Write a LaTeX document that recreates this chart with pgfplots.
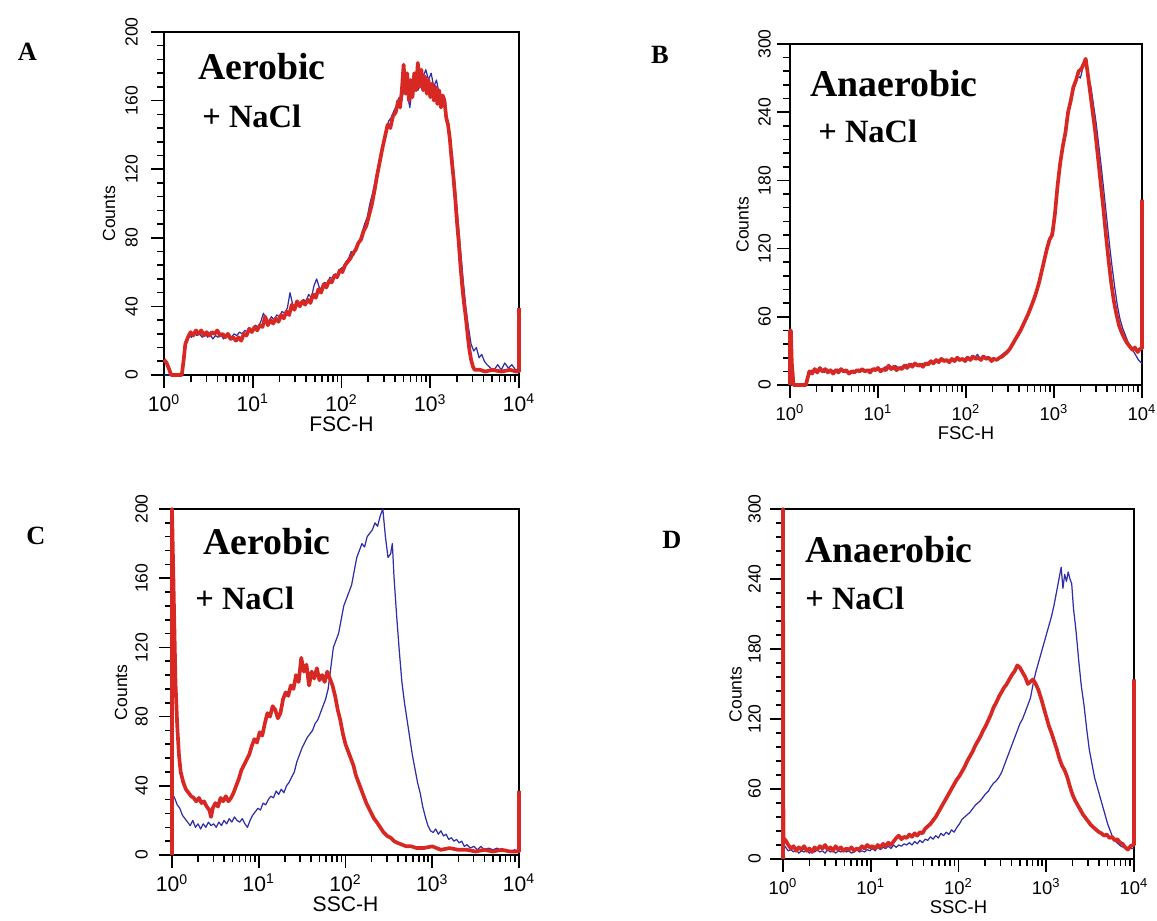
\documentclass[border=0pt]{standalone}
\usepackage{pgfplots}
\pgfplotsset{compat=1.18}
\usepackage{fontspec}
\setmainfont{Liberation Serif}
\setsansfont{Liberation Sans}
\definecolor{fred}{RGB}{216,40,36}
\definecolor{fblue}{RGB}{46,46,168}

\pgfplotsset{
  flow/.style={
    scale only axis,
    clip=false,
    xmin=0, xmax=4, ymin=0,
    xtick={0,1,2,3,4},
    xticklabels={10\textsuperscript{0},10\textsuperscript{1},10\textsuperscript{2},10\textsuperscript{3},10\textsuperscript{4}},
    minor xtick={0.30103,0.47712,0.60206,0.69897,0.77815,0.84510,0.90309,0.95424,
      1.30103,1.47712,1.60206,1.69897,1.77815,1.84510,1.90309,1.95424,
      2.30103,2.47712,2.60206,2.69897,2.77815,2.84510,2.90309,2.95424,
      3.30103,3.47712,3.60206,3.69897,3.77815,3.84510,3.90309,3.95424},
    xtick pos=bottom, ytick pos=left,
    tick align=outside,
    major tick length=0.26cm, minor tick length=0.14cm,
    tick style={black, line width=0.9pt},
    axis line style={black, line width=1pt},
    minor y tick num=4,
    yticklabel style={rotate=90, anchor=south, font=\sffamily\fontsize{10}{10}\selectfont},
    ylabel={Counts},
    every axis y label/.style={rotate=90, anchor=center,
      font=\sffamily\fontsize{10}{10}\selectfont},
    every axis x label/.style={at={(axis description cs:0.5,0)}, anchor=north, yshift=-0.72cm},
    /pgf/number format/assume math mode=true,
  },
  redh/.style={fred, line width=2.1pt, line join=round},
  blueh/.style={fblue, line width=0.7pt, line join=round},
}

\begin{document}
\begin{tikzpicture}
\useasboundingbox (0,0) rectangle (23.14,18.42);

% A: aerobic, forward scatter
\begin{scope}[shift={(3.28,10.92)}]
\begin{axis}[flow, width=7.10cm, height=6.86cm,
  ymax=200, ytick={0,40,...,200},
  yticklabel style={yshift=0.14cm},
  xticklabel style={font=\sffamily\fontsize{12}{12}\selectfont},
  xlabel={FSC-H}, xlabel style={font=\sffamily\fontsize{12}{12}\selectfont},
  ylabel style={at={([xshift=-1.1cm]axis description cs:0,0.47)}}]
\addplot[blueh] coordinates {(0,0)(0.21,0)(0.23,14)(0.25,20)(0.28,23)(0.31,22)(0.34,25)(0.37,23)(0.40,24)(0.43,22)(0.46,25)(0.49,22)(0.52,24)(0.55,21)(0.58,23)(0.61,22)(0.64,24)(0.67,21)(0.70,23)(0.73,24)(0.76,22)(0.79,24)(0.82,23)(0.85,25)(0.88,24)(0.91,26)(0.94,25)(0.97,27)(1.00,26)(1.03,29)(1.06,28)(1.09,31)(1.12,36)(1.15,33)(1.18,31)(1.21,34)(1.24,32)(1.27,35)(1.30,34)(1.33,37)(1.36,36)(1.39,39)(1.42,48)(1.45,41)(1.48,40)(1.51,42)(1.54,41)(1.57,44)(1.60,43)(1.63,47)(1.66,45)(1.69,52)(1.72,56)(1.75,51)(1.78,50)(1.81,54)(1.84,53)(1.87,57)(1.90,56)(1.93,59)(1.96,58)(1.99,62)(2.02,63)(2.05,66)(2.08,68)(2.11,72)(2.14,70)(2.17,75)(2.20,78)(2.23,83)(2.26,88)(2.29,92)(2.32,100)(2.35,106)(2.38,113)(2.41,121)(2.44,129)(2.47,135)(2.50,141)(2.53,148)(2.56,150)(2.59,154)(2.62,157)(2.65,162)(2.68,160)(2.71,170)(2.74,164)(2.77,156)(2.80,168)(2.83,172)(2.86,166)(2.89,170)(2.92,174)(2.95,178)(2.98,172)(3.01,176)(3.04,168)(3.07,172)(3.10,164)(3.13,160)(3.16,156)(3.19,150)(3.22,140)(3.25,128)(3.28,110)(3.31,92)(3.34,74)(3.37,56)(3.40,40)(3.43,28)(3.46,18)(3.49,14)(3.52,16)(3.55,10)(3.58,12)(3.61,8)(3.64,6)(3.68,4)(3.72,3)(3.76,6)(3.80,3)(3.84,7)(3.88,4)(3.92,6)(3.96,3)(4,3)};
\addplot[redh] coordinates {(0,9)(0.03,7)(0.06,3)(0.08,0)(0.20,0)(0.22,8)(0.24,18)(0.27,22)(0.30,25)(0.33,23)(0.36,26)(0.39,24)(0.42,26)(0.45,23)(0.48,25)(0.51,23)(0.54,25)(0.57,24)(0.60,26)(0.63,23)(0.66,24)(0.69,22)(0.72,24)(0.75,21)(0.78,22)(0.81,20)(0.84,22)(0.87,20)(0.90,24)(0.93,23)(0.96,27)(0.99,25)(1.02,28)(1.05,26)(1.08,29)(1.11,28)(1.14,34)(1.17,29)(1.20,32)(1.23,30)(1.26,33)(1.29,31)(1.32,35)(1.35,33)(1.38,37)(1.41,35)(1.44,41)(1.47,38)(1.50,43)(1.53,40)(1.56,43)(1.59,41)(1.62,44)(1.65,42)(1.68,47)(1.71,45)(1.74,50)(1.77,48)(1.80,53)(1.83,51)(1.86,55)(1.89,54)(1.92,58)(1.95,57)(1.98,61)(2.01,60)(2.04,64)(2.07,66)(2.10,68)(2.13,71)(2.16,73)(2.19,77)(2.22,79)(2.25,84)(2.28,87)(2.31,93)(2.34,99)(2.37,107)(2.40,116)(2.43,124)(2.46,132)(2.49,139)(2.52,146)(2.55,144)(2.58,151)(2.61,153)(2.64,160)(2.66,156)(2.68,166)(2.70,181)(2.72,164)(2.74,176)(2.76,160)(2.78,172)(2.80,162)(2.82,176)(2.84,166)(2.86,182)(2.88,168)(2.90,178)(2.92,166)(2.94,174)(2.96,164)(2.98,172)(3.00,162)(3.02,170)(3.04,160)(3.06,168)(3.08,158)(3.10,166)(3.12,156)(3.14,163)(3.16,160)(3.18,150)(3.20,146)(3.22,138)(3.24,126)(3.26,116)(3.28,104)(3.30,90)(3.32,78)(3.34,64)(3.36,52)(3.38,42)(3.40,34)(3.42,24)(3.44,15)(3.46,9)(3.48,5)(3.50,3)(3.56,3)(3.62,2)(3.70,3)(3.80,2)(3.90,3)(3.97,2)(4,2)(4,39)};
\end{axis}
\end{scope}

% B: anaerobic, forward scatter
\begin{scope}[shift={(15.80,10.72)}]
\begin{axis}[flow, width=7.04cm, height=6.82cm,
  ymax=300, ytick={0,60,...,300},
  xticklabel style={font=\sffamily\fontsize{10.5}{10.5}\selectfont},
  xlabel={FSC-H}, xlabel style={font=\sffamily\fontsize{10.5}{10.5}\selectfont, yshift=0.02cm},
  ylabel style={at={([xshift=-0.95cm]axis description cs:0,0.47)}}]
\addplot[blueh] coordinates {(0,0)(0.19,0)(0.21,8)(0.24,13)(0.27,11)(0.30,14)(0.33,12)(0.36,13)(0.39,11)(0.42,14)(0.45,12)(0.48,13)(0.51,11)(0.54,14)(0.57,12)(0.60,13)(0.63,11)(0.66,12)(0.69,10)(0.72,13)(0.75,12)(0.78,14)(0.81,12)(0.84,13)(0.87,12)(0.90,14)(0.93,13)(0.96,15)(0.99,13)(1.02,14)(1.05,13)(1.08,16)(1.11,14)(1.14,16)(1.17,14)(1.20,17)(1.23,15)(1.26,16)(1.29,15)(1.32,18)(1.35,16)(1.38,19)(1.41,17)(1.44,18)(1.47,16)(1.50,19)(1.53,18)(1.56,20)(1.59,19)(1.62,21)(1.65,20)(1.68,22)(1.71,21)(1.74,23)(1.77,22)(1.80,21)(1.83,23)(1.86,22)(1.89,24)(1.92,21)(1.95,23)(1.98,22)(2.01,25)(2.04,23)(2.07,26)(2.10,24)(2.13,27)(2.16,23)(2.19,26)(2.22,24)(2.25,25)(2.28,23)(2.31,24)(2.34,22)(2.37,24)(2.40,26)(2.43,28)(2.46,30)(2.49,32)(2.52,36)(2.55,39)(2.58,42)(2.61,46)(2.64,50)(2.67,55)(2.70,60)(2.73,66)(2.76,72)(2.79,78)(2.82,86)(2.85,94)(2.88,104)(2.91,114)(2.94,124)(2.97,134)(3.00,146)(3.03,165)(3.06,185)(3.09,202)(3.12,216)(3.15,232)(3.18,246)(3.21,258)(3.24,266)(3.27,272)(3.30,270)(3.33,280)(3.36,284)(3.39,272)(3.42,262)(3.45,246)(3.48,230)(3.51,210)(3.54,190)(3.57,168)(3.60,146)(3.63,124)(3.66,104)(3.69,86)(3.72,70)(3.75,58)(3.78,50)(3.81,44)(3.84,38)(3.87,34)(3.90,30)(3.93,26)(3.96,22)(4,19)};
\addplot[redh] coordinates {(0,0)(0,48)(0.01,48)(0.02,20)(0.04,0)(0.18,0)(0.20,6)(0.22,12)(0.25,10)(0.28,14)(0.31,11)(0.34,15)(0.37,12)(0.40,14)(0.43,11)(0.46,13)(0.49,10)(0.52,13)(0.55,11)(0.58,14)(0.61,12)(0.64,13)(0.67,10)(0.70,12)(0.73,11)(0.76,13)(0.79,12)(0.82,14)(0.85,12)(0.88,13)(0.91,11)(0.94,14)(0.97,13)(1.00,15)(1.03,12)(1.06,14)(1.09,13)(1.12,17)(1.15,14)(1.18,16)(1.21,13)(1.24,15)(1.27,14)(1.30,17)(1.33,15)(1.36,18)(1.39,16)(1.42,19)(1.45,17)(1.48,18)(1.51,16)(1.54,19)(1.57,18)(1.60,21)(1.63,19)(1.66,22)(1.69,20)(1.72,23)(1.75,21)(1.78,22)(1.81,20)(1.84,23)(1.87,21)(1.90,24)(1.93,22)(1.96,23)(1.99,21)(2.02,24)(2.05,22)(2.08,25)(2.11,23)(2.14,24)(2.17,22)(2.20,25)(2.23,23)(2.26,24)(2.29,21)(2.32,23)(2.35,22)(2.38,24)(2.41,25)(2.44,27)(2.47,29)(2.50,32)(2.53,36)(2.56,40)(2.59,44)(2.62,48)(2.65,53)(2.68,58)(2.71,63)(2.74,69)(2.77,75)(2.80,82)(2.83,90)(2.86,100)(2.89,110)(2.92,120)(2.95,128)(2.98,132)(3.01,150)(3.04,175)(3.07,195)(3.10,210)(3.13,222)(3.16,240)(3.19,250)(3.22,262)(3.25,268)(3.28,276)(3.31,278)(3.34,283)(3.36,287)(3.38,276)(3.41,258)(3.44,240)(3.47,222)(3.50,200)(3.53,178)(3.56,156)(3.59,132)(3.62,110)(3.65,90)(3.68,74)(3.71,62)(3.74,52)(3.77,46)(3.80,41)(3.83,37)(3.86,34)(3.89,31)(3.92,33)(3.95,29)(3.98,32)(4,32)(4,163)};
\end{axis}
\end{scope}

% C: aerobic, side scatter
\begin{scope}[shift={(3.44,1.32)}]
\begin{axis}[flow, width=6.94cm, height=6.92cm,
  ymax=200, ytick={0,40,...,200},
  yticklabel style={yshift=0.1cm},
  xticklabel style={font=\sffamily\fontsize{12}{12}\selectfont},
  xlabel={SSC-H}, xlabel style={font=\sffamily\fontsize{12}{12}\selectfont},
  ylabel style={at={([xshift=-1.02cm]axis description cs:0,0.47)}}]
\addplot[blueh] coordinates {(0,36)(0.03,33)(0.06,29)(0.09,27)(0.12,23)(0.15,21)(0.18,19)(0.21,17)(0.24,20)(0.27,16)(0.30,18)(0.33,15)(0.36,18)(0.39,16)(0.42,19)(0.45,17)(0.48,18)(0.51,16)(0.54,19)(0.57,17)(0.60,20)(0.63,18)(0.66,21)(0.69,19)(0.72,22)(0.75,20)(0.78,19)(0.81,21)(0.84,18)(0.87,16)(0.90,20)(0.93,23)(0.96,25)(0.99,27)(1.02,26)(1.05,30)(1.08,29)(1.11,32)(1.14,34)(1.17,33)(1.20,37)(1.23,35)(1.26,38)(1.29,36)(1.32,40)(1.35,42)(1.38,45)(1.41,48)(1.44,54)(1.47,58)(1.50,62)(1.53,65)(1.56,68)(1.59,70)(1.62,72)(1.65,76)(1.68,78)(1.71,82)(1.74,86)(1.77,90)(1.80,96)(1.83,108)(1.86,120)(1.89,124)(1.92,128)(1.95,136)(1.98,144)(2.01,148)(2.04,152)(2.07,156)(2.10,164)(2.13,172)(2.16,176)(2.19,180)(2.22,178)(2.25,184)(2.28,186)(2.31,188)(2.34,192)(2.37,190)(2.40,196)(2.43,200)(2.46,184)(2.49,172)(2.52,174)(2.54,180)(2.56,160)(2.59,138)(2.62,118)(2.65,100)(2.68,88)(2.71,78)(2.74,68)(2.77,58)(2.80,50)(2.83,42)(2.86,36)(2.89,28)(2.92,22)(2.95,17)(2.98,14)(3.01,13)(3.04,15)(3.07,12)(3.10,14)(3.13,11)(3.16,12)(3.19,9)(3.22,10)(3.25,8)(3.28,9)(3.31,7)(3.34,8)(3.37,5)(3.40,6)(3.44,4)(3.48,5)(3.52,3)(3.56,5)(3.60,3)(3.65,4)(3.70,3)(3.75,4)(3.80,2)(3.85,3)(3.90,2)(3.95,3)(4,2)};
\addplot[redh] coordinates {(0,0)(0,200)(0.02,150)(0.04,100)(0.06,75)(0.08,58)(0.10,48)(0.13,42)(0.16,38)(0.19,36)(0.22,34)(0.25,33)(0.28,31)(0.31,33)(0.34,30)(0.37,31)(0.40,28)(0.43,26)(0.45,22)(0.47,27)(0.50,30)(0.53,28)(0.56,33)(0.59,31)(0.62,34)(0.65,31)(0.68,33)(0.71,36)(0.74,40)(0.77,44)(0.80,49)(0.83,52)(0.86,55)(0.89,58)(0.92,63)(0.95,67)(0.98,65)(1.01,71)(1.04,69)(1.07,76)(1.10,82)(1.13,80)(1.16,86)(1.19,84)(1.22,79)(1.25,82)(1.28,90)(1.31,94)(1.34,92)(1.37,98)(1.40,96)(1.43,104)(1.46,100)(1.49,114)(1.52,106)(1.55,110)(1.58,98)(1.61,106)(1.64,102)(1.67,108)(1.70,101)(1.73,104)(1.76,100)(1.79,106)(1.82,102)(1.85,98)(1.88,92)(1.91,84)(1.94,78)(1.97,70)(2.00,64)(2.03,60)(2.06,56)(2.09,52)(2.12,46)(2.15,42)(2.18,38)(2.21,34)(2.24,30)(2.27,27)(2.30,24)(2.33,21)(2.36,19)(2.40,16)(2.44,13)(2.48,11)(2.52,10)(2.56,8)(2.60,7)(2.65,6)(2.70,5)(2.76,5)(2.82,4)(2.90,4)(3.00,5)(3.10,3)(3.20,4)(3.30,3)(3.40,3)(3.50,2)(3.60,3)(3.70,2)(3.80,3)(3.90,2)(4,2)(4,37)};
\end{axis}
\end{scope}

% D: anaerobic, side scatter
\begin{scope}[shift={(15.66,1.24)}]
\begin{axis}[flow, width=7.02cm, height=7.0cm,
  ymax=300, ytick={0,60,...,300},
  yticklabel style={yshift=0.06cm},
  xticklabel style={font=\sffamily\fontsize{10.5}{10.5}\selectfont},
  xlabel={SSC-H}, xlabel style={font=\sffamily\fontsize{10.5}{10.5}\selectfont, yshift=0.02cm},
  ylabel style={at={([xshift=-0.95cm]axis description cs:0,0.47)}}]
\addplot[blueh] coordinates {(0,13)(0.03,10)(0.06,7)(0.09,8)(0.12,6)(0.15,8)(0.18,5)(0.21,7)(0.24,6)(0.27,8)(0.30,5)(0.33,7)(0.36,6)(0.39,8)(0.42,6)(0.45,7)(0.48,5)(0.51,8)(0.54,6)(0.57,7)(0.60,5)(0.63,7)(0.66,6)(0.69,8)(0.72,6)(0.75,7)(0.78,5)(0.81,6)(0.84,8)(0.87,6)(0.90,7)(0.93,6)(0.96,8)(0.99,7)(1.02,9)(1.05,7)(1.08,10)(1.11,8)(1.14,10)(1.17,9)(1.20,11)(1.23,9)(1.26,12)(1.29,10)(1.32,12)(1.35,11)(1.38,13)(1.41,12)(1.44,14)(1.47,12)(1.50,15)(1.53,13)(1.56,16)(1.59,14)(1.62,17)(1.65,16)(1.68,19)(1.71,17)(1.74,20)(1.77,18)(1.80,22)(1.83,20)(1.86,23)(1.89,21)(1.92,25)(1.95,23)(1.98,27)(2.01,30)(2.04,34)(2.07,36)(2.10,38)(2.13,40)(2.16,43)(2.19,46)(2.22,48)(2.25,50)(2.28,53)(2.31,56)(2.34,58)(2.37,62)(2.40,65)(2.43,67)(2.46,70)(2.49,74)(2.52,80)(2.55,86)(2.58,92)(2.61,98)(2.64,104)(2.67,110)(2.70,116)(2.73,120)(2.76,126)(2.79,132)(2.82,138)(2.85,150)(2.88,160)(2.91,168)(2.94,176)(2.97,184)(3.00,192)(3.03,200)(3.06,208)(3.09,218)(3.12,230)(3.15,242)(3.17,250)(3.19,232)(3.21,244)(3.23,238)(3.25,246)(3.27,240)(3.29,236)(3.31,215)(3.34,195)(3.37,170)(3.40,148)(3.43,132)(3.46,112)(3.49,94)(3.52,82)(3.55,70)(3.58,62)(3.61,54)(3.64,46)(3.67,38)(3.70,30)(3.73,24)(3.76,18)(3.79,15)(3.82,13)(3.85,11)(3.88,10)(3.91,9)(3.94,10)(3.97,9)(4,9)};
\addplot[redh] coordinates {(0,0)(0,300)(0.005,18)(0.03,16)(0.06,12)(0.09,9)(0.12,11)(0.15,7)(0.18,10)(0.21,8)(0.24,11)(0.27,7)(0.30,9)(0.33,6)(0.36,10)(0.39,8)(0.42,11)(0.45,9)(0.48,12)(0.51,8)(0.54,10)(0.57,7)(0.60,11)(0.63,8)(0.66,10)(0.69,7)(0.72,9)(0.75,8)(0.78,10)(0.81,7)(0.84,9)(0.87,8)(0.90,11)(0.93,9)(0.96,12)(0.99,10)(1.02,11)(1.05,9)(1.08,12)(1.11,10)(1.14,13)(1.17,11)(1.20,14)(1.23,12)(1.26,15)(1.29,18)(1.32,20)(1.35,17)(1.38,19)(1.41,18)(1.44,21)(1.47,19)(1.50,22)(1.53,20)(1.56,23)(1.59,22)(1.62,26)(1.65,28)(1.68,30)(1.71,33)(1.74,36)(1.77,40)(1.80,44)(1.83,48)(1.86,52)(1.89,56)(1.92,60)(1.95,64)(1.98,68)(2.01,71)(2.04,75)(2.07,79)(2.10,84)(2.13,88)(2.16,92)(2.19,97)(2.22,101)(2.25,105)(2.28,110)(2.31,114)(2.34,119)(2.37,124)(2.40,130)(2.43,134)(2.46,139)(2.49,143)(2.52,147)(2.55,150)(2.58,154)(2.61,158)(2.64,161)(2.67,166)(2.70,164)(2.73,160)(2.76,156)(2.79,150)(2.82,152)(2.85,154)(2.88,150)(2.91,145)(2.94,138)(2.97,130)(3.00,122)(3.03,114)(3.06,108)(3.09,101)(3.12,94)(3.15,86)(3.18,80)(3.21,76)(3.24,70)(3.27,62)(3.30,55)(3.33,50)(3.36,46)(3.39,42)(3.42,38)(3.45,35)(3.48,32)(3.51,29)(3.54,27)(3.57,25)(3.60,23)(3.63,22)(3.66,20)(3.69,21)(3.72,18)(3.75,19)(3.78,16)(3.81,17)(3.84,14)(3.87,13)(3.90,10)(3.93,8)(3.96,11)(3.99,12)(4,12)(4,154)};
\end{axis}
\end{scope}

% panel letters and conditions
\node[font=\bfseries\fontsize{15}{15}\selectfont] at (0.55,17.38) {A};
\node[font=\bfseries\fontsize{15}{15}\selectfont] at (13.2,17.32) {B};
\node[font=\bfseries\fontsize{15}{15}\selectfont] at (0.72,7.70) {C};
\node[font=\bfseries\fontsize{15}{15}\selectfont] at (13.44,7.62) {D};
\node[anchor=base west, inner sep=0, font=\bfseries\fontsize{21.5}{21.5}\selectfont] at (3.96,16.82) {Aerobic};
\node[anchor=base west, inner sep=0, font=\bfseries\fontsize{18.5}{18.5}\selectfont] at (4.04,15.86) {+ NaCl};
\node[anchor=base west, inner sep=0, font=\bfseries\fontsize{21.5}{21.5}\selectfont] at (16.2,16.48) {Anaerobic};
\node[anchor=base west, inner sep=0, font=\bfseries\fontsize{18.5}{18.5}\selectfont] at (16.36,15.56) {+ NaCl};
\node[anchor=base west, inner sep=0, font=\bfseries\fontsize{21.5}{21.5}\selectfont] at (4.06,7.32) {Aerobic};
\node[anchor=base west, inner sep=0, font=\bfseries\fontsize{18.5}{18.5}\selectfont] at (3.90,6.22) {+ NaCl};
\node[anchor=base west, inner sep=0, font=\bfseries\fontsize{21.5}{21.5}\selectfont] at (16.1,7.16) {Anaerobic};
\node[anchor=base west, inner sep=0, font=\bfseries\fontsize{18.5}{18.5}\selectfont] at (16.1,6.22) {+ NaCl};
\end{tikzpicture}
\end{document}
